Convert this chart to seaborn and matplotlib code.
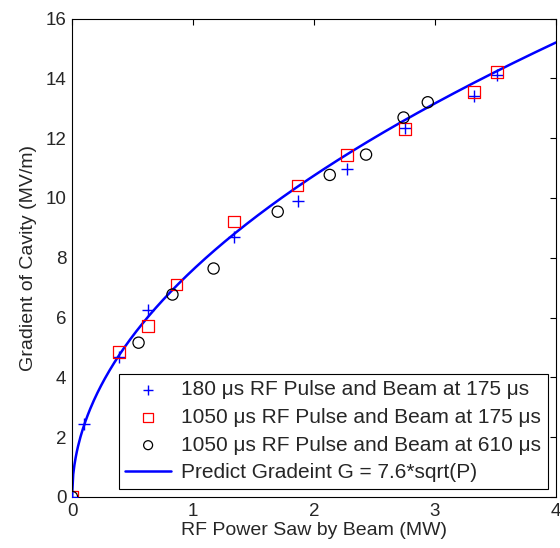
import numpy as np
import seaborn as sns
import matplotlib.pyplot as plt

p_180 = [0.0, 0.10, 0.39, 0.63, 1.34, 1.87, 2.27, 2.75, 3.32, 3.51]
g_180 = [0.0, 2.44, 4.67, 6.25, 8.71, 9.91, 10.97, 12.33, 13.42, 14.11]

p_1050a = [0.0, 0.39, 0.63, 0.865, 1.34, 1.865, 2.27, 2.75, 3.32, 3.51]
g_1050a = [0.0, 4.85, 5.72, 7.10, 9.21, 10.42, 11.44, 12.31, 13.55, 14.22]

p_1050b = [0.0, 0.55, 0.83, 1.17, 1.70, 2.13, 2.43, 2.74, 2.94]
g_1050b = [0.0, 5.16, 6.77, 7.64, 9.54, 10.77, 11.45, 12.69, 13.20]

# predicted curve G = 7.6*sqrt(P)
coef = 7.6
p_fit = np.linspace(0, 4, 400)
g_fit = coef * np.sqrt(p_fit)

sns.set_style('white')
plt.rcParams['font.family'] = ['Liberation Sans', 'DejaVu Sans']

fig = plt.figure(figsize=(5.6, 5.48), dpi=100)
ax = fig.add_axes([0.1286, 0.0931, 0.8643, 0.8731])

sns.scatterplot(x=p_180, y=g_180, marker='+', s=70, color='blue', linewidth=1.0,
                ax=ax, label='180 μs RF Pulse and Beam at 175 μs', zorder=3)
sns.scatterplot(x=p_1050a, y=g_1050a, marker='s', s=70, facecolor='none',
                edgecolor='red', linewidth=0.9, ax=ax,
                label='1050 μs RF Pulse and Beam at 175 μs', zorder=3)
sns.scatterplot(x=p_1050b, y=g_1050b, marker='o', s=65, facecolor='none',
                edgecolor='black', linewidth=0.9, ax=ax,
                label='1050 μs RF Pulse and Beam at 610 μs', zorder=3)
sns.lineplot(x=p_fit, y=g_fit, color='blue', linewidth=1.8, ax=ax,
             label='Predict Gradeint G = 7.6*sqrt(P)', zorder=2)

ax.set_xlim(0, 4)
ax.set_ylim(0, 16)
ax.set_xticks([0, 1, 2, 3, 4])
ax.set_yticks(range(0, 17, 2))
ax.tick_params(direction='in', top=True, right=True, labelsize=13.5, length=4,
               width=0.8, color='black', pad=4)
for s in ax.spines.values():
    s.set_color('black')
    s.set_linewidth(0.8)
ax.set_xlabel('RF Power Saw by Beam (MW)', fontsize=14, labelpad=2)
ax.set_ylabel('Gradient of Cavity (MV/m)', fontsize=14, labelpad=6)

leg = ax.legend(loc='lower right', fontsize=15, frameon=True, fancybox=False,
                edgecolor='black', framealpha=1, borderaxespad=0.4,
                handlelength=2.2, handletextpad=0.5, labelspacing=0.42,
                borderpad=0.3, markerscale=0.8)
leg.get_frame().set_linewidth(0.8)

fig.savefig('out.png', dpi=100)
